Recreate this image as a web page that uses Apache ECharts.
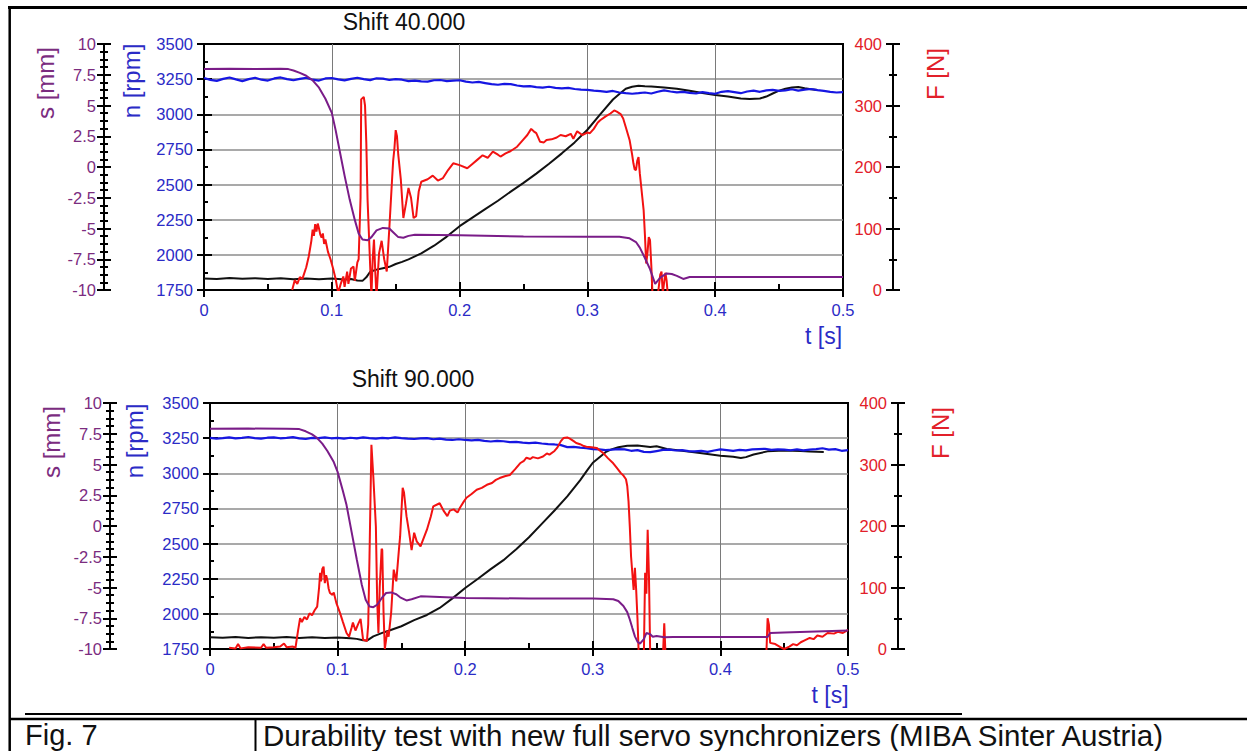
<!DOCTYPE html>
<html><head><meta charset="utf-8">
<script src="https://cdn.jsdelivr.net/npm/echarts@6/dist/echarts.min.js"></script>
<style>html,body{margin:0;padding:0;background:#fff}#c{width:1247px;height:751px}</style>
</head><body><div id="c"></div>
<script>
// ---------- DATA ----------
const T5 = [0,0.005,0.01,0.015,0.02,0.025,0.03,0.035,0.04,0.045,
  0.05,0.055,0.06,0.065,0.07,0.075,0.08,0.085,0.09,0.095,
  0.1,0.105,0.11,0.115,0.12,0.125,0.13,0.135,0.14,0.145,
  0.15,0.155,0.16,0.165,0.17,0.175,0.18,0.185,0.19,0.195,
  0.2,0.205,0.21,0.215,0.22,0.225,0.23,0.235,0.24,0.245,
  0.25,0.255,0.26,0.265,0.27,0.275,0.28,0.285,0.29,0.295,
  0.3,0.305,0.31,0.315,0.32,0.325,0.33,0.335,0.34,0.345,
  0.35,0.355,0.36,0.365,0.37,0.375,0.38,0.385,0.39,0.395,
  0.4,0.405,0.41,0.415,0.42,0.425,0.43,0.435,0.44,0.445,
  0.45,0.455,0.46,0.465,0.47,0.475,0.48,0.485,0.49,0.495,0.5];

// Shift 40.000 : n [rpm] (blue), sampled at T5
const top_n = [3258,3245,3238,3252,3262,3248,3236,3250,3260,3246,
  3240,3255,3262,3250,3242,3252,3260,3246,3240,3255,
  3258,3248,3241,3252,3260,3250,3243,3256,3254,3244,
  3250,3246,3236,3240,3234,3232,3242,3244,3236,3240,
  3242,3232,3226,3230,3222,3214,3210,3216,3214,3205,
  3198,3200,3193,3190,3196,3188,3184,3188,3180,3176,
  3174,3168,3165,3160,3166,3155,3150,3146,3150,3155,
  3148,3160,3170,3162,3156,3160,3152,3148,3158,3150,
  3146,3160,3165,3158,3150,3162,3168,3160,3170,3174,
  3166,3170,3178,3168,3176,3180,3172,3166,3160,3155,3158];

// Shift 40.000 : second speed (black) [rpm]
const top_k_t = [0,0.01,0.02,0.03,0.04,0.05,0.06,0.07,0.08,0.09,0.1,0.11,
  0.115,0.12,0.124,0.127,0.13,0.135,0.14,0.145,0.15,0.155,0.16,
  0.17,0.18,0.19,0.2,0.21,0.22,0.23,0.24,0.25,0.26,0.27,0.28,0.29,0.3,0.31,0.32,
  0.325,0.33,0.335,0.34,0.345,0.35,
  0.36,0.37,0.38,0.39,0.4,0.41,0.42,
  0.427,0.435,0.44,0.445,0.45,0.455,0.46,0.465,0.47,0.475,0.48];
const top_k = [1832,1828,1836,1830,1834,1829,1833,1826,1831,1827,1832,1825,
  1828,1818,1815,1840,1880,1895,1905,1915,1935,1950,1968,
  2010,2065,2130,2204,2265,2325,2385,2450,2512,2578,2648,2722,2800,2890,3000,3105,
  3145,3182,3196,3203,3200,3198,
  3190,3182,3168,3152,3138,3126,3112,
  3108,3112,3126,3148,3168,3182,3190,3194,3185,3178,3172];

// Shift 40.000 : s [mm] (purple)
const top_s_t = [0,0.02,0.04,0.06,0.066,
  0.07,0.075,0.08,0.085,0.09,0.095,0.1,
  0.103,0.106,0.11,0.114,0.118,0.121,0.124,0.128,0.131,0.135,
  0.14,0.145,0.148,0.152,0.156,0.16,0.165,
  0.2,0.25,0.3,0.325,
  0.333,0.338,0.341,0.345,0.349,0.353,0.357,0.362,0.366,0.37,0.375,0.38,
  0.44,0.5];
const top_s = [7.97,7.98,7.97,7.98,7.96,
  7.85,7.65,7.42,7.05,6.45,5.55,4.4,
  3.0,1.4,-0.7,-2.65,-4.3,-5.4,-5.9,-5.95,-5.7,-5.15,
  -4.95,-5.0,-5.3,-5.7,-5.75,-5.6,-5.5,
  -5.55,-5.65,-5.68,-5.68,
  -5.8,-6.1,-6.55,-7.4,-8.3,-9.5,-9.0,-8.65,-8.7,-8.85,-9.1,-8.95,
  -8.95,-8.95];

// Shift 40.000 : F [N] (red)
const top_F_t = [0.069,0.071,0.073,0.075,0.077,0.08,0.082,0.084,0.085,0.086,
  0.087,0.088,0.089,0.09,0.091,0.092,0.093,0.094,0.095,0.097,
  0.099,0.101,0.103,0.105,0.107,0.109,0.11,0.112,0.113,0.115,
  0.117,0.118,0.12,0.121,0.1225,0.123,0.125,0.126,0.127,0.128,
  0.13,0.131,0.132,0.133,0.134,0.135,0.137,0.139,0.141,0.143,
  0.145,0.147,0.148,0.149,0.15,0.151,0.152,0.154,0.156,0.158,
  0.16,0.162,0.164,0.166,0.168,0.17,0.175,0.179,0.183,0.187,
  0.191,0.195,0.2,0.206,0.21,0.214,0.218,0.222,0.226,0.23,
  0.232,0.236,0.24,0.245,0.25,0.253,0.256,0.258,0.26,0.263,
  0.266,0.268,0.272,0.276,0.279,0.283,0.287,0.289,0.292,0.296,
  0.3,0.302,0.305,0.308,0.31,0.314,0.318,0.321,0.323,0.326,
  0.328,0.33,0.333,0.335,0.336,0.337,0.338,0.339,0.34,0.341,
  0.343,0.344,0.345,0.346,0.347,0.348,0.349,0.35,0.351,0.355,
  0.357,0.358,0.359,0.361,0.362,0.363];
const top_F = [0,16,10,21,18,37,55,80,98,88,
  107,95,108,100,90,85,92,75,82,62,
  50,35,18,-5,10,22,5,30,10,35,
  38,15,45,50,150,310,314,300,240,146,
  40,-10,50,82,30,-10,60,80,50,30,
  100,174,210,230,260,250,220,180,117,140,
  166,150,117,120,160,176,180,186,178,182,
  195,206,203,198,205,212,219,215,225,220,
  217,222,226,233,245,252,262,258,255,241,
  240,244,245,248,252,250,254,246,258,252,
  256,255,262,272,276,282,287,292,290,286,
  279,265,244,220,206,196,195,210,216,190,
  150,130,90,43,60,86,81,40,-10,-10,
  25,30,-5,28,15,-10];

// Shift 90.000 : n [rpm] (blue), sampled at T5
const bot_n = [3252,3246,3250,3256,3248,3252,3258,3250,3246,3253,
  3256,3249,3252,3257,3248,3244,3252,3250,3255,3249,
  3252,3247,3253,3248,3256,3250,3246,3252,3249,3255,
  3250,3246,3244,3248,3250,3242,3246,3240,3237,3242,
  3237,3234,3238,3230,3226,3230,3228,3222,3224,3218,
  3215,3218,3212,3208,3205,3200,3186,3188,3182,3178,
  3172,3170,3165,3168,3172,3170,3160,3165,3152,3150,
  3158,3166,3168,3162,3165,3158,3156,3160,3152,3162,
  3170,3165,3160,3166,3163,3170,3172,3174,3166,3170,
  3168,3164,3170,3163,3168,3172,3178,3168,3172,3160,3165];

// Shift 90.000 : second speed (black)
const bot_k_t = [0,0.01,0.02,0.03,0.04,0.05,0.06,0.07,0.08,0.09,
  0.1,0.11,0.115,0.12,0.123,0.128,0.135,0.14,0.15,0.16,
  0.17,0.18,0.19,0.2,0.21,0.22,0.23,0.24,0.25,0.26,
  0.27,0.28,0.29,0.296,0.3,0.306,0.31,0.314,0.32,0.327,
  0.335,0.345,0.35,0.358,0.37,0.384,0.4,0.41,0.416,0.42,
  0.426,0.437,0.45,0.463,0.47,0.481];
const bot_k = [1833,1830,1836,1829,1834,1830,1835,1829,1833,1828,
  1832,1826,1822,1812,1810,1840,1865,1880,1912,1955,
  1992,2042,2110,2184,2250,2318,2382,2460,2545,2640,
  2735,2836,2950,3026,3075,3120,3150,3168,3185,3196,
  3198,3187,3192,3173,3160,3144,3125,3118,3109,3115,
  3134,3156,3162,3158,3155,3152];

// Shift 90.000 : s [mm] (purple)
const bot_s_t = [0,0.03,0.06,0.07,0.075,0.08,0.084,0.088,0.092,0.097,
  0.1,0.104,0.107,0.111,0.115,0.119,0.122,0.125,0.128,0.131,
  0.135,0.138,0.142,0.146,0.149,0.154,0.158,0.165,0.2,0.25,
  0.3,0.316,0.32,0.324,0.327,0.329,0.331,0.333,0.335,0.337,
  0.34,0.342,0.345,0.347,0.35,0.356,0.363,0.437,0.439,0.45,
  0.5];
const bot_s = [7.9,7.92,7.9,7.88,7.7,7.45,7.15,6.7,6.1,5.2,
  4.4,2.9,1.7,-0.5,-2.7,-4.8,-6.0,-6.55,-6.6,-6.4,
  -5.8,-5.45,-5.4,-5.55,-5.8,-6.05,-5.95,-5.72,-5.85,-5.9,
  -5.9,-5.95,-6.1,-6.5,-7.0,-7.6,-8.3,-8.97,-9.4,-9.57,
  -9.2,-8.7,-8.8,-9.0,-8.95,-9.05,-9.02,-9.02,-8.7,-8.65,
  -8.5];

// Shift 90.000 : F [N] (red)
const bot_F_t = [0.015,0.02,0.022,0.024,0.03,0.04,0.042,0.044,0.05,0.055,
  0.058,0.06,0.065,0.067,0.069,0.0706,0.072,0.074,0.076,0.078,
  0.08,0.082,0.084,0.0855,0.0863,0.087,0.088,0.089,0.09,0.091,
  0.092,0.093,0.094,0.096,0.097,0.099,0.102,0.104,0.107,0.109,
  0.111,0.112,0.114,0.116,0.118,0.12,0.123,0.124,0.125,0.1265,
  0.128,0.13,0.131,0.132,0.133,0.1345,0.135,0.136,0.137,0.139,
  0.14,0.142,0.144,0.146,0.148,0.149,0.151,0.152,0.154,0.156,
  0.158,0.16,0.162,0.165,0.167,0.17,0.173,0.175,0.178,0.18,
  0.183,0.186,0.188,0.191,0.194,0.196,0.199,0.201,0.205,0.209,
  0.213,0.217,0.221,0.224,0.227,0.231,0.235,0.239,0.243,0.246,
  0.248,0.251,0.253,0.257,0.261,0.264,0.266,0.27,0.272,0.275,
  0.277,0.28,0.282,0.285,0.287,0.29,0.293,0.295,0.299,0.303,
  0.306,0.308,0.312,0.316,0.319,0.322,0.324,0.326,0.327,0.328,
  0.329,0.33,0.332,0.333,0.334,0.335,0.336,0.34,0.341,0.342,
  0.343,0.344,0.345,0.355,0.356,0.357,0.436,0.437,0.438,0.439,
  0.443,0.447,0.45,0.454,0.457,0.46,0.463,0.466,0.47,0.473,
  0.476,0.48,0.484,0.489,0.492,0.496,0.5];
const bot_F = [2,1,8,1,3,2,8,2,3,4,
  9,3,4,2,30,50,44,52,48,58,
  55,63,69,100,124,110,130,134,107,120,
  112,98,91,88,92,75,58,45,26,20,
  35,43,30,40,49,15,13,40,150,332,
  280,199,80,26,100,163,161,60,0,30,
  20,60,129,110,160,183,262,255,216,190,
  161,189,175,167,178,194,215,232,235,237,
  225,216,225,227,222,230,240,246,252,259,
  262,267,270,275,278,281,283,292,302,306,
  311,309,312,310,313,318,316,322,327,338,
  343,344,342,338,335,333,330,329,328,327,
  322,319,310,302,294,286,282,276,265,240,
  199,150,96,132,96,50,-10,-10,124,90,
  194,120,-10,-10,42,-10,-10,50,40,10,
  8,3,0,4,8,6,11,14,18,16,
  22,20,26,25,28,26,31];

const titles = ['Shift 40.000', 'Shift 90.000'];
const sTicks = {min: -10, max: 10, step: 2.5};
const nTicks = {min: 1750, max: 3500, step: 250};
const fTicks = {min: 0, max: 400, step: 100};
const tTicks = {min: 0, max: 0.5, step: 0.1};

// ---------- STYLE / LAYOUT ----------
const FONT = '"Liberation Sans", Arial, Helvetica, sans-serif';
const C_BLUE = '#1616e2', C_BLACK = '#111111', C_RED = '#f21212', C_PURPLE = '#7a1c88';
const L_BLUE = '#2b2bc6', L_PURPLE = '#7b2c7f', L_RED = '#e2202a';
const GRIDS = [
  {left: 204, top: 44, width: 639, height: 246},
  {left: 210, top: 403, width: 638, height: 246}
];
const pair = (t, v) => t.slice(0, Math.min(t.length, v.length)).map((x, i) => [x, v[i]]);
const blk = {color: '#000', width: 2};
const plain = v => String(Math.round(v * 1000) / 1000);

function xAxes(gi) {
  const base = {type: 'value', gridIndex: gi, position: 'bottom', min: tTicks.min, max: tTicks.max, interval: tTicks.step};
  return [
    Object.assign({}, base, {
      axisLine: {show: true, onZero: false, lineStyle: blk},
      axisTick: {show: true, inside: false, length: 7, lineStyle: blk},
      minorTick: {show: false},
      axisLabel: {show: true, color: L_BLUE, fontSize: 16.5, fontFamily: FONT, margin: 11, formatter: plain},
      splitLine: {show: true, showMinLine: false, showMaxLine: false, lineStyle: {color: '#7a7a7a', width: 1}}
    }),
    Object.assign({}, base, {
      axisLine: {show: false, onZero: false},
      axisTick: {show: true, inside: true, length: 8, lineStyle: blk},
      minorTick: {show: true, splitNumber: 2, length: 6, lineStyle: blk},
      axisLabel: {show: false}, splitLine: {show: false}
    })
  ];
}
function yAxes(gi) {
  const n = {type: 'value', gridIndex: gi, position: 'left', offset: 0, min: nTicks.min, max: nTicks.max, interval: nTicks.step};
  const s = {type: 'value', gridIndex: gi, position: 'left', offset: 100, min: sTicks.min, max: sTicks.max, interval: sTicks.step};
  const f = {type: 'value', gridIndex: gi, position: 'right', offset: 50, min: fTicks.min, max: fTicks.max, interval: fTicks.step};
  return [
    Object.assign({}, n, {
      axisLine: {show: true, onZero: false, lineStyle: blk},
      axisTick: {show: true, inside: false, length: 7, lineStyle: blk},
      minorTick: {show: false},
      axisLabel: {show: true, color: L_BLUE, fontSize: 16.5, fontFamily: FONT, margin: 11, formatter: plain},
      splitLine: {show: true, showMinLine: false, showMaxLine: false, lineStyle: {color: '#8c8c8c', width: 1.5}}
    }),
    Object.assign({}, n, {
      axisLine: {show: false, onZero: false},
      axisTick: {show: true, inside: true, length: 8, lineStyle: blk},
      minorTick: {show: true, splitNumber: 2, length: 4, lineStyle: blk},
      axisLabel: {show: false}, splitLine: {show: false}
    }),
    Object.assign({}, s, {
      axisLine: {show: true, onZero: false, lineStyle: blk},
      axisTick: {show: true, inside: false, length: 7, lineStyle: blk},
      minorTick: {show: true, splitNumber: 4, length: 4, lineStyle: blk},
      axisLabel: {show: true, color: L_PURPLE, fontSize: 16.5, fontFamily: FONT, margin: 8, formatter: plain},
      splitLine: {show: false}
    }),
    Object.assign({}, s, {
      axisLine: {show: false, onZero: false},
      axisTick: {show: true, inside: true, length: 7, lineStyle: blk},
      minorTick: {show: true, splitNumber: 4, length: 4, lineStyle: blk},
      axisLabel: {show: false}, splitLine: {show: false}
    }),
    Object.assign({}, f, {
      axisLine: {show: true, onZero: false, lineStyle: blk},
      axisTick: {show: true, inside: false, length: 7, lineStyle: blk},
      minorTick: {show: true, splitNumber: 2, length: 4, lineStyle: blk},
      axisLabel: {show: true, inside: true, color: L_RED, fontSize: 16.5, fontFamily: FONT, margin: 11, formatter: plain},
      splitLine: {show: false}
    }),
    Object.assign({}, f, {
      axisLine: {show: false, onZero: false},
      axisTick: {show: true, inside: true, length: 7, lineStyle: blk},
      minorTick: {show: true, splitNumber: 2, length: 4, lineStyle: blk},
      axisLabel: {show: false}, splitLine: {show: false}
    })
  ];
}

function lineSeries(name, data, xi, yi, color, w) {
  return {name, type: 'line', xAxisIndex: xi, yAxisIndex: yi, data, showSymbol: false, symbol: 'none',
    smooth: false, clip: true, animation: false, silent: true,
    lineStyle: {color, width: w}, emphasis: {disabled: true}};
}

const series = [
  lineSeries('k40', pair(top_k_t, top_k), 0, 0, C_BLACK, 2),
  lineSeries('n40', pair(T5, top_n), 0, 0, C_BLUE, 2.2),
  lineSeries('F40', pair(top_F_t, top_F), 0, 4, C_RED, 2),
  lineSeries('s40', pair(top_s_t, top_s), 0, 2, C_PURPLE, 2),
  lineSeries('k90', pair(bot_k_t, bot_k), 2, 6, C_BLACK, 2),
  lineSeries('n90', pair(T5, bot_n), 2, 6, C_BLUE, 2.2),
  lineSeries('F90', pair(bot_F_t, bot_F), 2, 10, C_RED, 2),
  lineSeries('s90', pair(bot_s_t, bot_s), 2, 8, C_PURPLE, 2)
];

function txt(text, x, y, size, color, rot, align) {
  return {type: 'text', x, y, rotation: rot || 0, silent: true, z: 50,
    style: {text, fill: color, font: size + 'px ' + FONT, textAlign: align || 'center', textVerticalAlign: 'middle'}};
}
function ln(x1, y1, x2, y2, w) {
  return {type: 'line', silent: true, z: 50, shape: {x1, y1, x2, y2}, style: {stroke: '#000', lineWidth: w}};
}
const R = Math.PI / 2;
const graphic = [
  // frame
  ln(8, 7.5, 1247, 7.5, 3),
  ln(9.7, 6, 9.7, 751, 2.5),
  ln(25, 714, 962, 714, 2),
  ln(9, 719, 1247, 719, 2.5),
  ln(255.5, 719, 255.5, 751, 2),
  // titles
  txt(titles[0], 404, 22, 23, '#111'),
  txt(titles[1], 413, 379, 23, '#111'),
  // axis names top
  txt('s [mm]', 45, 83, 24, L_PURPLE, R),
  txt('n [rpm]', 131, 81, 24, L_BLUE, R),
  txt('F [N]', 935, 74, 24, L_RED, R),
  txt('t [s]', 823.5, 336, 23, L_BLUE),
  // axis names bottom
  txt('s [mm]', 51, 442, 24, L_PURPLE, R),
  txt('n [rpm]', 134, 441, 24, L_BLUE, R),
  txt('F [N]', 940, 433, 24, L_RED, R),
  txt('t [s]', 830, 695, 23, L_BLUE),
  // caption
  txt('Fig. 7', 25, 735, 29, '#111', 0, 'left'),
  txt('Durability test with new full servo synchronizers (MIBA Sinter Austria)', 263, 735, 29.5, '#111', 0, 'left')
];

const chart = echarts.init(document.getElementById('c'), null, {renderer: 'svg'});
chart.setOption({
  animation: false,
  backgroundColor: '#ffffff',
  grid: GRIDS.map(g => Object.assign({}, g, {show: true, borderColor: '#000', borderWidth: 2,
    backgroundColor: 'transparent', containLabel: false, outerBoundsMode: 'none'})),
  xAxis: xAxes(0).concat(xAxes(1)),
  yAxis: yAxes(0).concat(yAxes(1)),
  series,
  graphic
});
</script>
</body></html>
